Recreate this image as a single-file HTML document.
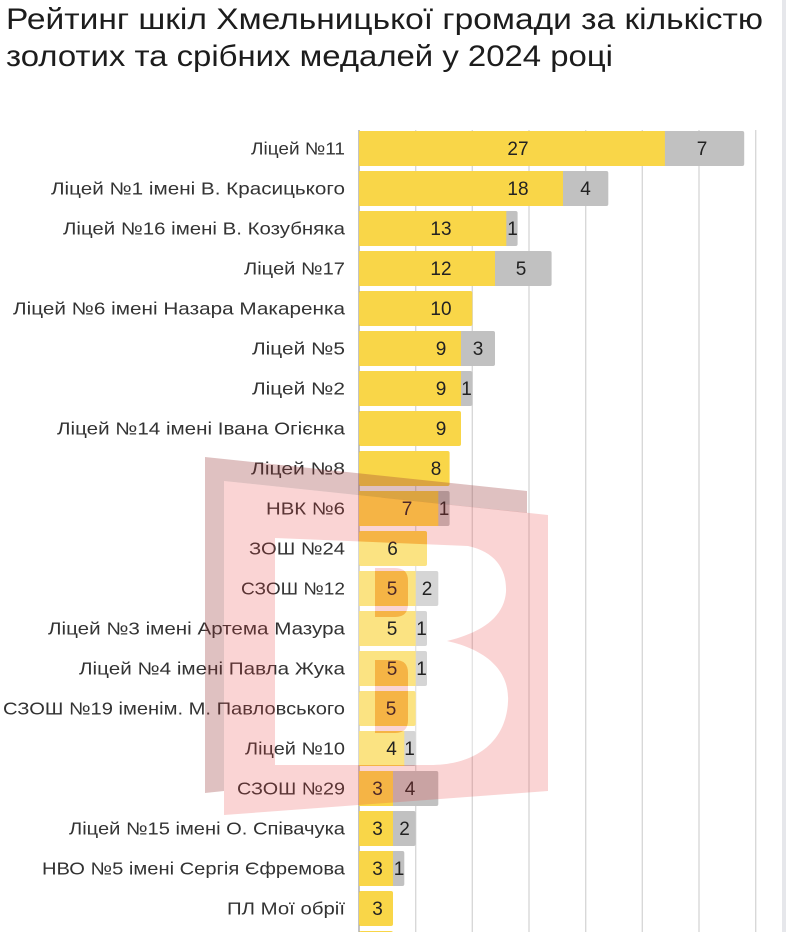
<!DOCTYPE html>
<html><head><meta charset="utf-8">
<style>
html,body{margin:0;padding:0;background:#fff;}
body{width:786px;height:932px;overflow:hidden;position:relative;}
svg{position:absolute;left:0;top:0;}
.t{font-family:"Liberation Sans","Noto Sans CJK SC",sans-serif;fill:#1c1c1c;font-size:30px;}
.l{font-family:"Liberation Sans","Noto Sans CJK SC",sans-serif;fill:#333;font-size:17.5px;}
.v{font-family:"Liberation Sans","Noto Sans CJK SC",sans-serif;fill:#222;font-size:19px;text-anchor:middle;}
</style></head><body>
<svg width="786" height="932" viewBox="0 0 786 932" xmlns="http://www.w3.org/2000/svg">
<rect x="782" y="0" width="4" height="932" fill="#e6e7eb"/>
<text class="t" x="6" y="29" textLength="757" lengthAdjust="spacingAndGlyphs">Рейтинг шкіл Хмельницької громади за кількістю</text>
<text class="t" x="6" y="66" textLength="607" lengthAdjust="spacingAndGlyphs">золотих та срібних медалей у 2024 році</text>

<g stroke="#d6d6d6" stroke-width="1.3">
<line x1="415.7" y1="130" x2="415.7" y2="932"/>
<line x1="472.3" y1="130" x2="472.3" y2="932"/>
<line x1="529" y1="130" x2="529" y2="932"/>
<line x1="585.7" y1="130" x2="585.7" y2="932"/>
<line x1="642.3" y1="130" x2="642.3" y2="932"/>
<line x1="699" y1="130" x2="699" y2="932"/>
<line x1="755.7" y1="130" x2="755.7" y2="932"/>
</g>
<line x1="359" y1="130" x2="359" y2="932" stroke="#8a8a8a" stroke-width="1"/>

<!-- bars -->
<g>
<rect x="359" y="131" width="385.2" height="35" rx="2" fill="#c1c1c1"/><rect x="359" y="131" width="305.9" height="35" fill="#f9d648"/>
<rect x="359" y="171" width="249.3" height="35" rx="2" fill="#c1c1c1"/><rect x="359" y="171" width="204" height="35" fill="#f9d648"/>
<rect x="359" y="211" width="158.6" height="35" rx="2" fill="#c1c1c1"/><rect x="359" y="211" width="147.3" height="35" fill="#f9d648"/>
<rect x="359" y="251" width="192.6" height="35" rx="2" fill="#c1c1c1"/><rect x="359" y="251" width="136" height="35" fill="#f9d648"/>
<rect x="359" y="291" width="113.3" height="35" rx="2" fill="#f9d648"/>
<rect x="359" y="331" width="136" height="35" rx="2" fill="#c1c1c1"/><rect x="359" y="331" width="102" height="35" fill="#f9d648"/>
<rect x="359" y="371" width="113.3" height="35" rx="2" fill="#c1c1c1"/><rect x="359" y="371" width="102" height="35" fill="#f9d648"/>
<rect x="359" y="411" width="102" height="35" rx="2" fill="#f9d648"/>
<rect x="359" y="451" width="90.6" height="35" rx="2" fill="#f9d648"/>
<rect x="359" y="491" width="90.6" height="35" rx="2" fill="#c1c1c1"/><rect x="359" y="491" width="79.3" height="35" fill="#f9d648"/>
<rect x="359" y="531" width="68" height="35" rx="2" fill="#f9d648"/>
<rect x="359" y="571" width="79.3" height="35" rx="2" fill="#c1c1c1"/><rect x="359" y="571" width="56.7" height="35" fill="#f9d648"/>
<rect x="359" y="611" width="68" height="35" rx="2" fill="#c1c1c1"/><rect x="359" y="611" width="56.7" height="35" fill="#f9d648"/>
<rect x="359" y="651" width="68" height="35" rx="2" fill="#c1c1c1"/><rect x="359" y="651" width="56.7" height="35" fill="#f9d648"/>
<rect x="359" y="691" width="56.7" height="35" rx="2" fill="#f9d648"/>
<rect x="359" y="731" width="56.7" height="35" rx="2" fill="#c1c1c1"/><rect x="359" y="731" width="45.3" height="35" fill="#f9d648"/>
<rect x="359" y="771" width="79.3" height="35" rx="2" fill="#c1c1c1"/><rect x="359" y="771" width="34" height="35" fill="#f9d648"/>
<rect x="359" y="811" width="56.7" height="35" rx="2" fill="#c1c1c1"/><rect x="359" y="811" width="34" height="35" fill="#f9d648"/>
<rect x="359" y="851" width="45.3" height="35" rx="2" fill="#c1c1c1"/><rect x="359" y="851" width="34" height="35" fill="#f9d648"/>
<rect x="359" y="891" width="34" height="35" rx="2" fill="#f9d648"/>
<rect x="359" y="931" width="34" height="35" rx="2" fill="#f9d648"/>
</g>

<!-- white part of watermark (below text) -->
<path fill-rule="evenodd" fill="#fff" fill-opacity="0.32"
 d="M275,538 L468,546 C496,552 507,570 506,592 C504,616 484,632 447,641 C488,650 510,672 508,702 C506,740 478,765 430,765 L275,765 Z
    M375,568 L395,568 Q408,568 408,581 L408,604 Q408,617 395,617 L375,617 Z
    M375,660 L395,660 Q408,660 408,673 L408,720 Q408,733 395,733 L375,733 Z"/>

<!-- category labels -->
<g>
<text class="l" x="251" y="154.5" textLength="94" lengthAdjust="spacingAndGlyphs">Ліцей №11</text>
<text class="l" x="51" y="194.5" textLength="294" lengthAdjust="spacingAndGlyphs">Ліцей №1 імені В. Красицького</text>
<text class="l" x="63" y="234.5" textLength="282" lengthAdjust="spacingAndGlyphs">Ліцей №16 імені В. Козубняка</text>
<text class="l" x="244" y="274.5" textLength="101" lengthAdjust="spacingAndGlyphs">Ліцей №17</text>
<text class="l" x="13" y="314.5" textLength="332" lengthAdjust="spacingAndGlyphs">Ліцей №6 імені Назара Макаренка</text>
<text class="l" x="252" y="354.5" textLength="93" lengthAdjust="spacingAndGlyphs">Ліцей №5</text>
<text class="l" x="252" y="394.5" textLength="93" lengthAdjust="spacingAndGlyphs">Ліцей №2</text>
<text class="l" x="57" y="434.5" textLength="288" lengthAdjust="spacingAndGlyphs">Ліцей №14 імені Івана Огієнка</text>
<text class="l" x="251" y="474.5" textLength="94" lengthAdjust="spacingAndGlyphs">Ліцей №8</text>
<text class="l" x="266" y="514.5" textLength="79" lengthAdjust="spacingAndGlyphs">НВК №6</text>
<text class="l" x="249" y="554.5" textLength="96" lengthAdjust="spacingAndGlyphs">ЗОШ №24</text>
<text class="l" x="241" y="594.5" textLength="104" lengthAdjust="spacingAndGlyphs">СЗОШ №12</text>
<text class="l" x="48" y="634.5" textLength="297" lengthAdjust="spacingAndGlyphs">Ліцей №3 імені Артема Мазура</text>
<text class="l" x="79" y="674.5" textLength="266" lengthAdjust="spacingAndGlyphs">Ліцей №4 імені Павла Жука</text>
<text class="l" x="3" y="714.5" textLength="342" lengthAdjust="spacingAndGlyphs">СЗОШ №19 іменім. М. Павловського</text>
<text class="l" x="245" y="754.5" textLength="100" lengthAdjust="spacingAndGlyphs">Ліцей №10</text>
<text class="l" x="237" y="794.5" textLength="108" lengthAdjust="spacingAndGlyphs">СЗОШ №29</text>
<text class="l" x="69" y="834.5" textLength="276" lengthAdjust="spacingAndGlyphs">Ліцей №15 імені О. Співачука</text>
<text class="l" x="42" y="874.5" textLength="303" lengthAdjust="spacingAndGlyphs">НВО №5 імені Сергія Єфремова</text>
<text class="l" x="227" y="914.5" textLength="118" lengthAdjust="spacingAndGlyphs">ПЛ Мої обрії</text>
</g>

<!-- value labels -->
<g>
<text class="v" x="518" y="155">27</text><text class="v" x="702" y="155">7</text>
<text class="v" x="518" y="195">18</text><text class="v" x="585.5" y="195">4</text>
<text class="v" x="441" y="235">13</text><text class="v" x="512.5" y="235">1</text>
<text class="v" x="441" y="275">12</text><text class="v" x="521" y="275">5</text>
<text class="v" x="441" y="315">10</text>
<text class="v" x="441" y="355">9</text><text class="v" x="478" y="355">3</text>
<text class="v" x="441" y="395">9</text><text class="v" x="466.5" y="395">1</text>
<text class="v" x="441" y="435">9</text>
<text class="v" x="436" y="475">8</text>
<text class="v" x="407" y="515">7</text><text class="v" x="444" y="515">1</text>
<text class="v" x="392.5" y="555">6</text>
<text class="v" x="392" y="595">5</text><text class="v" x="427" y="595">2</text>
<text class="v" x="392" y="635">5</text><text class="v" x="421.5" y="635">1</text>
<text class="v" x="392" y="675">5</text><text class="v" x="421.5" y="675">1</text>
<text class="v" x="391" y="715">5</text>
<text class="v" x="391.5" y="755">4</text><text class="v" x="409.5" y="755">1</text>
<text class="v" x="377.5" y="795">3</text><text class="v" x="410" y="795">4</text>
<text class="v" x="377.5" y="835">3</text><text class="v" x="404.5" y="835">2</text>
<text class="v" x="377.5" y="875">3</text><text class="v" x="399" y="875">1</text>
<text class="v" x="377.5" y="915">3</text>
</g>

<!-- watermark colored parts (on top) -->
<g>
<polygon points="205,457 527,491 527,513 224,481 224,791 205,793" fill="rgb(150,50,50)" fill-opacity="0.3"/>
<path fill-rule="evenodd" fill="rgb(230,60,60)" fill-opacity="0.22"
 d="M224,481 L548,515 L548,791 L224,815 Z
    M275,538 L468,546 C496,552 507,570 506,592 C504,616 484,632 447,641 C488,650 510,672 508,702 C506,740 478,765 430,765 L275,765 Z"/>
<path fill="rgb(230,60,60)" fill-opacity="0.22"
 d="M375,568 L395,568 Q408,568 408,581 L408,604 Q408,617 395,617 L375,617 Z
    M375,660 L395,660 Q408,660 408,673 L408,720 Q408,733 395,733 L375,733 Z"/>
</g>
</svg>
</body></html>
